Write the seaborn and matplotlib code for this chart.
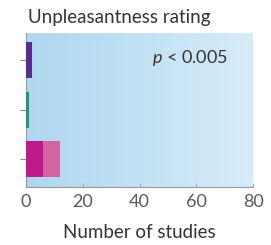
import matplotlib
matplotlib.use("Agg")
import matplotlib.pyplot as plt
import seaborn as sns
import numpy as np
import pandas as pd
from matplotlib.colors import LinearSegmentedColormap

sns.set_style("white")
plt.rcParams['font.family'] = ['Lato', 'DejaVu Sans']
plt.rcParams['mathtext.fontset'] = 'custom'
plt.rcParams['mathtext.it'] = 'Lato:italic'
plt.rcParams['mathtext.rm'] = 'Lato'

# --- data ---
categories = ["cat1", "cat2", "cat3"]
inner_values = [2, 1, 6]
total_values = [2, 1, 12]
inner_colors = ["#5a2b8e", "#1f9a70", "#c0188b"]
outer_colors = ["#5a2b8e", "#1f9a70", "#d264a2"]
x_ticks = [0, 20, 40, 60, 80]

df = pd.DataFrame({"category": categories, "inner": inner_values, "total": total_values})

fig = plt.figure(figsize=(2.71, 2.45), dpi=100)
ax = fig.add_axes([26 / 271, 1 - 187 / 245, 227 / 271, 154 / 245])

# gradient background
grad = LinearSegmentedColormap.from_list("bg", ["#afd7ef", "#d6ecf9"])
ax.imshow(np.linspace(0, 1, 256).reshape(1, -1), cmap=grad, aspect="auto",
          extent=[0, 1, 0, 1], transform=ax.transAxes, zorder=0)

sns.barplot(data=df, x="total", y="category", hue="category", palette=outer_colors,
            orient="h", width=0.72, legend=False, ax=ax, zorder=2, saturation=1,
            linewidth=0)
sns.barplot(data=df, x="inner", y="category", hue="category", palette=inner_colors,
            orient="h", width=0.72, legend=False, ax=ax, zorder=3, saturation=1,
            linewidth=0)

ax.set_xlim(0, 80)
ax.set_ylim(2.56, -0.55)
ax.set_xticks(x_ticks)
ax.set_xticklabels([str(t) for t in x_ticks], fontsize=13, color="#5a5a5a")
ax.set_yticklabels([])
ax.tick_params(axis="y", left=True, length=4, width=0.8, color="#888888", direction="out")
ax.tick_params(axis="x", bottom=True, length=3, width=0.8, color="#aaaaaa", direction="in", pad=5)
ax.set_ylabel("")
ax.set_xlabel("Number of studies", fontsize=13.5, color="#333333", labelpad=10)

for side in ["top", "right"]:
    ax.spines[side].set_visible(False)
for side in ["left", "bottom"]:
    ax.spines[side].set_color("#999999")
    ax.spines[side].set_linewidth(0.8)

ax.text(0.555, 0.84, r"$p$ < 0.005", transform=ax.transAxes, fontsize=13,
        color="#333333", va="center", ha="left")
fig.text(28 / 271, 1 - 18 / 245, "Unpleasantness rating", fontsize=13.5, color="#333333",
         va="center", ha="left")

fig.savefig("out.png", dpi=100)
